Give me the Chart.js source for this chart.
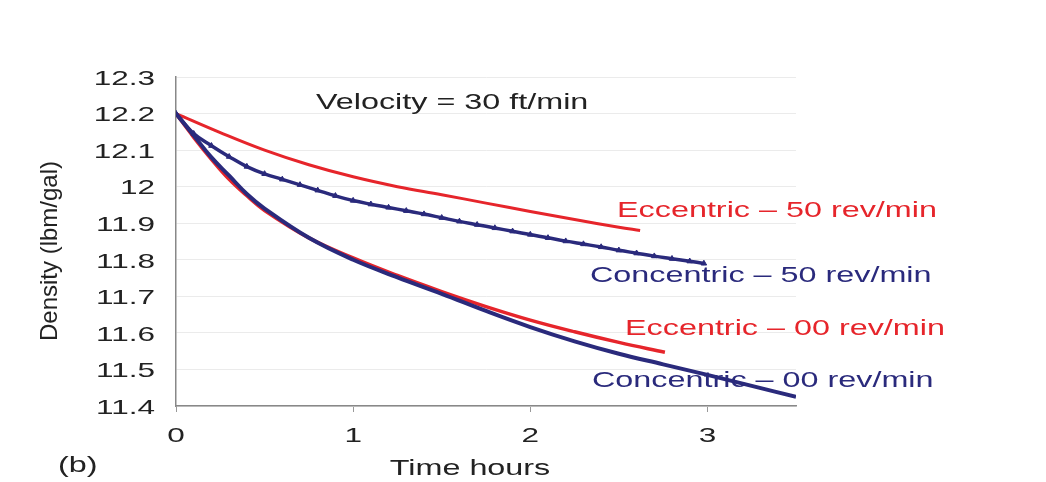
<!DOCTYPE html>
<html>
<head>
<meta charset="utf-8">
<script src="https://cdn.jsdelivr.net/npm/chart.js@4.4.1/dist/chart.umd.min.js"></script>
<style>
  html, body { margin: 0; padding: 0; background: #fff; }
  #wrap { width: 1046px; height: 482px; }
</style>
</head>
<body>
<div id="wrap"><canvas id="densityChart" width="1046" height="482"></canvas></div>
<script>
// Density vs time, velocity 30 ft/min
const xTicks = [0, 1, 2, 3];
const yTicks = [11.4, 11.5, 11.6, 11.7, 11.8, 11.9, 12, 12.1, 12.2, 12.3];

const ecc50Time = [0, 0.25, 0.5, 0.75, 1, 1.25, 1.5, 1.75, 2, 2.25, 2.5, 2.62];
const ecc50Dens = [12.2, 12.148, 12.1, 12.06, 12.027, 12.0, 11.978, 11.955, 11.932, 11.91, 11.889, 11.88];

const con50Time = [0, 0.1, 0.2, 0.3, 0.4, 0.5, 0.6, 0.7, 0.8, 0.9, 1.0, 1.1, 1.2, 1.3, 1.4, 1.5,
                   1.6, 1.7, 1.8, 1.9, 2.0, 2.1, 2.2, 2.3, 2.4, 2.5, 2.6, 2.7, 2.8, 2.9, 2.98];
const con50Dens = [12.2, 12.145, 12.112, 12.082, 12.055, 12.035, 12.02, 12.005, 11.99, 11.975, 11.962,
                   11.952, 11.943, 11.934, 11.925, 11.915, 11.905, 11.896, 11.887, 11.878, 11.869,
                   11.86, 11.851, 11.843, 11.835, 11.826, 11.818, 11.81, 11.803, 11.796, 11.79];

const ecc00Time = [0, 0.1, 0.2, 0.3, 0.4, 0.5, 0.75, 1, 1.25, 1.5, 1.75, 2, 2.25, 2.5, 2.76];
const ecc00Dens = [12.2, 12.135, 12.075, 12.02, 11.975, 11.935, 11.86, 11.805, 11.757, 11.713, 11.672, 11.635, 11.603, 11.574, 11.547];

const con00Time = [0, 0.1, 0.2, 0.3, 0.4, 0.5, 0.75, 1, 1.25, 1.5, 1.75, 2, 2.25, 2.5, 2.75, 3, 3.25, 3.5];
const con00Dens = [12.2, 12.14, 12.08, 12.03, 11.98, 11.94, 11.86, 11.8, 11.752, 11.707, 11.66, 11.616, 11.577, 11.543, 11.514, 11.485, 11.455, 11.425];

const RED = '#e6252b';
const BLUE = '#2a2a7c';
const FONT = '"Liberation Sans", Arial, sans-serif';

function pts(xs, ys) {
    return xs.map(function(x, i) { return { x: x, y: ys[i] }; });
}

// texte étiré horizontalement comme sur l'image d'origine
function wideText(ctx, text, x, y, align, sx) {
    ctx.save();
    ctx.translate(x, y);
    ctx.scale(sx, 1);
    ctx.textAlign = align;
    ctx.fillText(text, 0, 0);
    ctx.restore();
}

const annotations = {
    id: 'annotations',
    afterDraw: function(chart) {
        const ctx = chart.ctx;
        const xs = chart.scales.x;
        const ys = chart.scales.y;
        ctx.save();
        ctx.textBaseline = 'middle';

        // graduations
        ctx.font = '21px ' + FONT;
        ctx.fillStyle = '#222';
        yTicks.forEach(function(v) {
            const label = String(Math.round(v * 10) / 10);
            wideText(ctx, label, 155, ys.getPixelForValue(v) + 2, 'right', 1.5);
        });
        xTicks.forEach(function(v) {
            wideText(ctx, String(v), xs.getPixelForValue(v), 436, 'center', 1.5);
        });

        ctx.font = '22px ' + FONT;
        ctx.fillStyle = '#222';
        wideText(ctx, 'Velocity = 30 ft/min', 316, 103, 'left', 1.47);
        ctx.fillStyle = RED;
        wideText(ctx, 'Eccentric \u2013 50 rev/min', 617, 211, 'left', 1.47);
        wideText(ctx, 'Eccentric \u2013 00 rev/min', 625, 329, 'left', 1.47);
        ctx.fillStyle = BLUE;
        wideText(ctx, 'Concentric \u2013 50 rev/min', 590, 276, 'left', 1.47);
        wideText(ctx, 'Concentric \u2013 00 rev/min', 592, 381, 'left', 1.47);
        ctx.fillStyle = '#222';
        wideText(ctx, '(b)', 58, 466, 'left', 1.47);
        wideText(ctx, 'Time hours', 470, 469, 'center', 1.47);

        ctx.font = '24px ' + FONT;
        ctx.translate(50, 251);
        ctx.rotate(-Math.PI / 2);
        ctx.textAlign = 'center';
        ctx.fillText('Density (lbm/gal)', 0, 0);
        ctx.restore();
    }
};

document.addEventListener('DOMContentLoaded', function() {
    const canvas = document.getElementById('densityChart');
    const ctx = canvas.getContext('2d');
    const chart = new Chart(ctx, {
        type: 'line',
        data: {
            datasets: [
                {
                    label: 'Eccentric - 50 rev/min',
                    data: pts(ecc50Time, ecc50Dens),
                    borderColor: RED,
                    borderWidth: 3,
                    pointRadius: 0,
                    tension: 0.4,
                    order: 2
                },
                {
                    label: 'Eccentric - 00 rev/min',
                    data: pts(ecc00Time, ecc00Dens),
                    borderColor: RED,
                    borderWidth: 3.5,
                    pointRadius: 0,
                    tension: 0.4,
                    order: 2
                },
                {
                    label: 'Concentric - 50 rev/min',
                    data: pts(con50Time, con50Dens),
                    borderColor: BLUE,
                    backgroundColor: BLUE,
                    borderWidth: 3.5,
                    pointStyle: 'triangle',
                    pointRadius: 3.2,
                    pointBorderWidth: 1,
                    tension: 0.4,
                    order: 1
                },
                {
                    label: 'Concentric - 00 rev/min',
                    data: pts(con00Time, con00Dens),
                    borderColor: BLUE,
                    borderWidth: 4,
                    pointRadius: 0,
                    tension: 0.4,
                    order: 1
                }
            ]
        },
        options: {
            responsive: false,
            animation: false,
            layout: { padding: { top: 77, right: 250, left: 0, bottom: 0 } },
            plugins: {
                legend: { display: false },
                tooltip: { enabled: false }
            },
            scales: {
                x: {
                    type: 'linear',
                    min: 0,
                    max: 3.5,
                    afterBuildTicks: function(scale) {
                        scale.ticks = xTicks.map(function(v) { return { value: v }; });
                    },
                    afterFit: function(scale) { scale.height = 76; },
                    grid: {
                        drawOnChartArea: false,
                        drawTicks: true,
                        tickLength: 6,
                        color: '#999'
                    },
                    border: { color: '#888', width: 1.5 },
                    ticks: { display: false }
                },
                y: {
                    min: 11.4,
                    max: 12.3,
                    afterBuildTicks: function(scale) {
                        scale.ticks = yTicks.map(function(v) { return { value: v }; });
                    },
                    afterFit: function(scale) { scale.width = 176; },
                    grid: {
                        color: '#ebebeb',
                        drawTicks: false
                    },
                    border: { color: '#888', width: 1.5 },
                    ticks: { display: false }
                }
            }
        },
        plugins: [annotations]
    });
});
</script>
</body>
</html>
